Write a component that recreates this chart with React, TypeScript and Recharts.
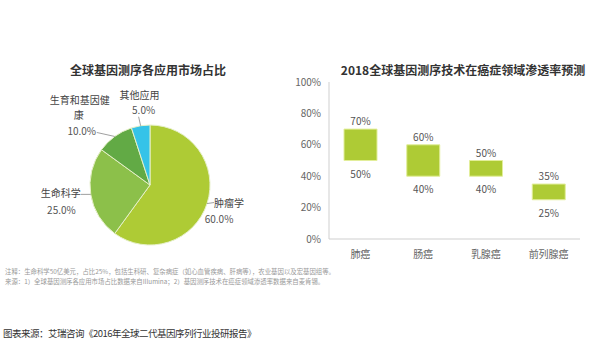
import React from 'react';
import { PieChart, Pie, Cell, BarChart, Bar, XAxis, YAxis, LabelList } from 'recharts';

// market share by application (pie)
const pieNames = ['肿瘤学', '生命科学', '生育和基因健康', '其他应用'];
const pieValues = [60, 25, 10, 5];
const pieColors = ['#aecb35', '#8cc04a', '#62aa45', '#35c3e8'];

// penetration forecast (floating bars)
const cancers = ['肺癌', '肠癌', '乳腺癌', '前列腺癌'];
const lowValues = [50, 40, 40, 25];
const highValues = [70, 60, 50, 35];
const yTicks = [0, 20, 40, 60, 80, 100];

const pieData = pieNames.map((name, i) => ({ name, value: pieValues[i] }));
const barData = cancers.map((name, i) => ({ name, range: [lowValues[i], highValues[i]] }));

const FONT = '"Noto Sans CJK SC", "Noto Sans", sans-serif';

// per-slice label placement relative to the slice edge point
const labelLayout = [
  { lx: 7, ly: -1, tx: 7, ty: 3, anchor: 'start', lines: ['肿瘤学'], pdx: 12, pdy: 19 },
  { lx: -10, ly: 0, tx: -10, ty: 3, anchor: 'end', lines: ['生命科学'], pdx: -15, pdy: 20 },
  { lx: -18, ly: -4, tx: -35, ty: -32, anchor: 'middle', lines: ['生育和基因健', '康'], pdx: -33, pdy: -1 },
  { lx: -2, ly: -9, tx: -1, ty: -27, anchor: 'middle', lines: ['其他应用'], pdx: 3, pdy: -12 },
];

const RADIAN = Math.PI / 180;

function PieLabel(props: any) {
  const { cx, cy, midAngle, outerRadius, index, value } = props;
  const ex = cx + outerRadius * Math.cos(-midAngle * RADIAN);
  const ey = cy + outerRadius * Math.sin(-midAngle * RADIAN);
  const l = labelLayout[index];
  const tx = ex + l.tx;
  const ty = ey + l.ty;
  return (
    <g>
      <line x1={ex} y1={ey} x2={ex + l.lx} y2={ey + l.ly} stroke="#888" strokeWidth={0.8} />
      {l.lines.map((t, k) => (
        <text
          key={k}
          x={l.lines.length > 1 && k > 0 ? tx + 4 : tx}
          y={ty + k * 15}
          textAnchor={l.lines.length > 1 && k > 0 ? 'end' : l.anchor}
          fontSize={10}
          fill="#444"
          fontFamily={FONT}
        >
          {t}
        </text>
      ))}
      <text
        x={ex + l.pdx}
        y={ey + l.pdy}
        textAnchor={l.anchor === 'end' ? 'end' : 'middle'}
        fontSize={10}
        fill="#555"
        fontFamily={FONT}
      >
        {value.toFixed(1)}%
      </text>
    </g>
  );
}

function RangeLabel(props: any) {
  const { x, y, width, height, index } = props;
  const cx = x + width / 2;
  return (
    <g fontFamily={FONT} fontSize={10} fill="#555" textAnchor="middle">
      <text x={cx} y={y - 4}>{highValues[index]}%</text>
      <text x={cx} y={y + height + 17}>{lowValues[index]}%</text>
    </g>
  );
}

export default function App() {
  return (
    <div style={{ position: 'absolute', left: 0, top: 0, width: 596, height: 363, background: '#fff', fontFamily: FONT, overflow: 'hidden' }}>
      <div style={{ position: 'absolute', left: 0, top: 61, width: 296, textAlign: 'center', fontSize: 12, fontWeight: 'bold', color: '#333' }}>
        全球基因测序各应用市场占比
      </div>
      <div style={{ position: 'absolute', left: 313, top: 61, width: 300, textAlign: 'center', fontSize: 12, fontWeight: 'bold', color: '#333' }}>
        2018全球基因测序技术在癌症领域渗透率预测
      </div>

      <div style={{ position: 'absolute', left: 0, top: 60 }}>
        <PieChart width={296} height={200}>
          <Pie
            data={pieData}
            dataKey="value"
            cx={145}
            cy={120}
            outerRadius={60}
            startAngle={90}
            endAngle={-270}
            stroke="#e6f0c8"
            strokeWidth={1}
            label={PieLabel}
            labelLine={false}
            isAnimationActive={false}
          >
            {pieData.map((d, i) => (
              <Cell key={d.name} fill={pieColors[i]} />
            ))}
          </Pie>
        </PieChart>
      </div>

      <div style={{ position: 'absolute', left: 290, top: 75 }}>
        <BarChart width={300} height={190} data={barData} margin={{ top: 7, right: 10, bottom: 0, left: 0 }} barCategoryGap={15}>
          <XAxis
            dataKey="name"
            axisLine={{ stroke: '#cfcfcf' }}
            tickLine={false}
            height={26}
            tick={{ fontSize: 10, fill: '#666', fontFamily: FONT }}
            tickMargin={6}
          />
          <YAxis
            width={39}
            domain={[0, 100]}
            ticks={yTicks}
            tickFormatter={(v: number) => `${v}%`}
            axisLine={{ stroke: '#cfcfcf' }}
            tickLine={false}
            tick={{ fontSize: 10, fill: '#666', fontFamily: FONT }}
          />
          <Bar dataKey="range" fill="#aecb35" stroke="#e2ee9a" strokeWidth={1} isAnimationActive={false}>
            <LabelList dataKey="range" content={RangeLabel} />
          </Bar>
        </BarChart>
      </div>

      <div style={{ position: 'absolute', left: 5, top: 267, fontSize: 6.4, color: '#999', lineHeight: '10px', whiteSpace: 'nowrap' }}>
        <div>注释：生命科学50亿美元，占比25%，包括生科研、复杂病症（如心血管疾病、肝病等），农业基因以及宏基因组等。</div>
        <div>来源：1）全球基因测序各应用市场占比数据来自Illumina；2）基因测序技术在癌症领域渗透率数据来自麦肯锡。</div>
      </div>

      <div style={{ position: 'absolute', left: 3, top: 326, fontSize: 9.5, letterSpacing: -0.5, color: '#333', whiteSpace: 'nowrap' }}>
        图表来源：艾瑞咨询《2016年全球二代基因序列行业投研报告》
      </div>
    </div>
  );
}
